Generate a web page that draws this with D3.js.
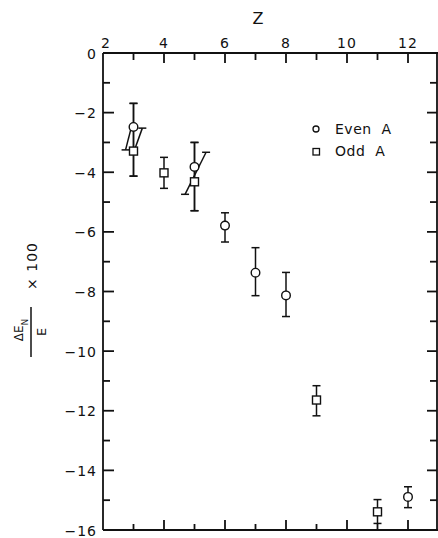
<!DOCTYPE html>
<html>
<head>
<meta charset="utf-8">
<script src="https://cdn.jsdelivr.net/npm/d3@7"></script>
<style>
  body { margin: 0; background: #fff; }
  text { font-family: "DejaVu Sans", "Liberation Sans", sans-serif; fill: #111; }
</style>
</head>
<body>
<div id="chart"></div>
<script>
// even-A points
var evenZ   = [3, 5, 6, 7, 8, 12];
var evenVal = [-2.48, -3.82, -5.79, -7.37, -8.13, -14.89];
var evenHi  = [-1.69, -3.0, -5.36, -6.53, -7.36, -14.55];
var evenLo  = [-4.13, -5.29, -6.34, -8.14, -8.84, -15.25];

// odd-A points
var oddZ   = [3, 4, 5, 9, 11];
var oddVal = [-3.29, -4.02, -4.32, -11.64, -15.39];
var oddHi  = [-1.69, -3.50, -3.0, -11.16, -14.98];
var oddLo  = [-4.13, -4.54, -5.29, -12.17, -15.78];

// slanted bars near Z=3 and Z=5
var slantZ0 = [2.74, 3.05, 4.69];
var slantV0 = [-3.25, -3.20, -4.74];
var slantZ1 = [2.92, 3.29, 5.38];
var slantV1 = [-2.53, -2.52, -3.33];
var slantCap = ["start", "end", "both"];

var xTicks = [2, 4, 6, 8, 10, 12];
var yTicks = [0, -2, -4, -6, -8, -10, -12, -14, -16];

var width = 438, height = 538;

var svg = d3.select("#chart").append("svg")
  .attr("width", width)
  .attr("height", height);

var x = d3.scaleLinear().domain([2, 13]).range([103, 438.5]);
var y = d3.scaleLinear().domain([0, -16]).range([53, 530]);

var ink = "#111";

// frame
var frame = svg.append("g").attr("stroke", ink).attr("stroke-width", 1.8).attr("fill", "none");
frame.append("line").attr("x1", x(2)).attr("x2", x(13)).attr("y1", y(0)).attr("y2", y(0));
frame.append("line").attr("x1", x(2)).attr("x2", x(13)).attr("y1", y(-16)).attr("y2", y(-16));
frame.append("line").attr("x1", x(2)).attr("x2", x(2)).attr("y1", y(0)).attr("y2", y(-16));
frame.append("line").attr("x1", 437).attr("x2", 437).attr("y1", y(0)).attr("y2", y(-16));

// ticks, inward, every unit
var zUnits = d3.range(3, 13);
frame.selectAll(".tt").data(zUnits).enter().append("line")
  .attr("x1", function(d){ return x(d); }).attr("x2", function(d){ return x(d); })
  .attr("y1", y(0)).attr("y2", function(d){ return y(0) + (d % 2 === 0 ? 10 : 7); });
frame.selectAll(".bt").data(zUnits).enter().append("line")
  .attr("x1", function(d){ return x(d); }).attr("x2", function(d){ return x(d); })
  .attr("y1", y(-16)).attr("y2", function(d){ return y(-16) - (d % 2 === 0 ? 10 : 6); });
var vUnits = d3.range(-1, -16, -1);
frame.selectAll(".lt").data(vUnits).enter().append("line")
  .attr("y1", function(d){ return y(d); }).attr("y2", function(d){ return y(d); })
  .attr("x1", x(2)).attr("x2", function(d){ return x(2) + (d % 2 === 0 ? 11 : 7); });
frame.selectAll(".rt").data(vUnits).enter().append("line")
  .attr("y1", function(d){ return y(d); }).attr("y2", function(d){ return y(d); })
  .attr("x1", 437).attr("x2", function(d){ return 437 - (d % 2 === 0 ? 10 : 7); });

// tick labels
svg.selectAll(".xl").data(xTicks).enter().append("text")
  .attr("x", function(d){ return x(d) + (d === 2 ? 3 : 0); })
  .attr("y", 48)
  .attr("text-anchor", "middle")
  .style("font-size", "14px")
  .style("letter-spacing", "1px")
  .text(function(d){ return d; });

svg.selectAll(".yl").data(yTicks).enter().append("text")
  .attr("x", 97)
  .attr("y", function(d){ return y(d) + 5.5; })
  .attr("text-anchor", "end")
  .style("font-size", "14px")
  .style("letter-spacing", "1px")
  .text(function(d){ return d === 0 ? "0" : "\u2212" + Math.abs(d); });

// axis titles
svg.append("text")
  .attr("x", 258).attr("y", 24)
  .attr("text-anchor", "middle")
  .style("font-size", "16px")
  .text("Z");

// y title, rotated, drawn element by element
svg.append("line").attr("x1", 31).attr("x2", 31).attr("y1", 307).attr("y2", 357)
  .attr("stroke", ink).attr("stroke-width", 1.5);
var num = svg.append("text")
  .attr("transform", "translate(23,330) rotate(-90)")
  .attr("text-anchor", "middle")
  .style("font-size", "12px");
num.append("tspan").text("\u0394E");
num.append("tspan").attr("dy", 5).style("font-size", "9px").text("N");
svg.append("text")
  .attr("transform", "translate(46,332) rotate(-90)")
  .attr("text-anchor", "middle")
  .style("font-size", "13px")
  .text("E");
svg.append("text")
  .attr("transform", "translate(37,266) rotate(-90)")
  .attr("text-anchor", "middle")
  .style("font-size", "14px")
  .style("letter-spacing", "1px")
  .text("\u00d7 100");

// error bars
function errBars(zs, his, los) {
  var g = svg.append("g").attr("stroke", ink).attr("stroke-width", 1.5);
  zs.forEach(function(z, i) {
    g.append("line").attr("x1", x(z)).attr("x2", x(z)).attr("y1", y(his[i])).attr("y2", y(los[i]));
    [his[i], los[i]].forEach(function(v) {
      g.append("line").attr("x1", x(z) - 4).attr("x2", x(z) + 4).attr("y1", y(v)).attr("y2", y(v));
    });
  });
}
errBars(evenZ, evenHi, evenLo);
errBars(oddZ, oddHi, oddLo);

var sg = svg.append("g").attr("stroke", ink).attr("stroke-width", 1.5);
slantZ0.forEach(function(z0, i) {
  sg.append("line")
    .attr("x1", x(z0)).attr("y1", y(slantV0[i]))
    .attr("x2", x(slantZ1[i])).attr("y2", y(slantV1[i]));
  if (slantCap[i] !== "end")
    sg.append("line").attr("x1", x(z0) - 4).attr("x2", x(z0) + 4)
      .attr("y1", y(slantV0[i])).attr("y2", y(slantV0[i]));
  if (slantCap[i] !== "start")
    sg.append("line").attr("x1", x(slantZ1[i]) - 4).attr("x2", x(slantZ1[i]) + 4)
      .attr("y1", y(slantV1[i])).attr("y2", y(slantV1[i]));
});

// markers
svg.append("g").selectAll("circle").data(evenZ).enter().append("circle")
  .attr("cx", function(d){ return x(d); })
  .attr("cy", function(d, i){ return y(evenVal[i]); })
  .attr("r", 4.3)
  .attr("fill", "#fff").attr("stroke", ink).attr("stroke-width", 1.4);

svg.append("g").selectAll("rect").data(oddZ).enter().append("rect")
  .attr("x", function(d){ return x(d) - 4; })
  .attr("y", function(d, i){ return y(oddVal[i]) - 4; })
  .attr("width", 8).attr("height", 8)
  .attr("fill", "#fff").attr("stroke", ink).attr("stroke-width", 1.4);

// legend
svg.append("circle").attr("cx", 316).attr("cy", 129).attr("r", 3)
  .attr("fill", "#fff").attr("stroke", ink).attr("stroke-width", 1.3);
svg.append("rect").attr("x", 313).attr("y", 148.5).attr("width", 6.5).attr("height", 6.5)
  .attr("fill", "#fff").attr("stroke", ink).attr("stroke-width", 1.3);
svg.append("text").attr("x", 335).attr("y", 134).style("font-size", "14px")
  .style("letter-spacing", "0.5px").attr("xml:space", "preserve").text("Even  A");
svg.append("text").attr("x", 335).attr("y", 156).style("font-size", "14px")
  .style("letter-spacing", "0.5px").attr("xml:space", "preserve").text("Odd  A");
</script>
</body>
</html>
